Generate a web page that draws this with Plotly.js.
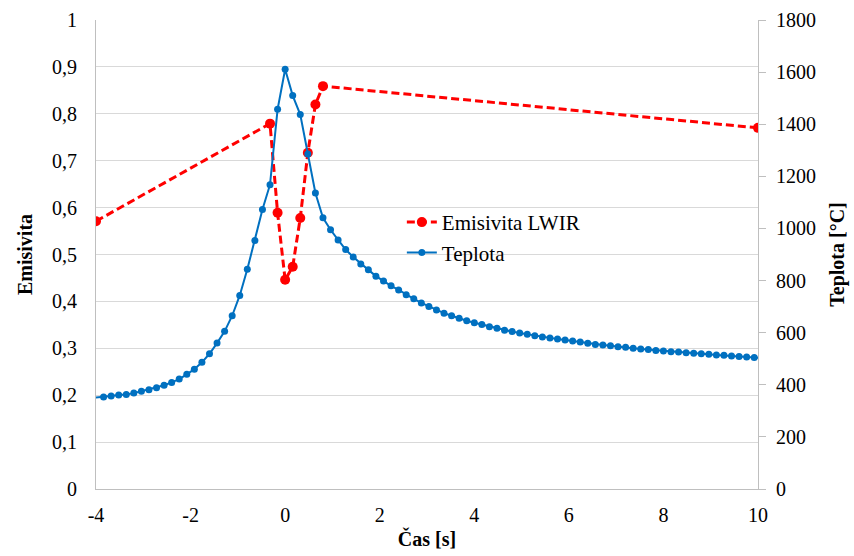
<!DOCTYPE html>
<html>
<head>
<meta charset="utf-8">
<script src="https://cdn.plot.ly/plotly-3.0.1.min.js"></script>
<style>html,body{margin:0;padding:0;background:#fff;}#chart{width:854px;height:556px;}</style>
</head>
<body>
<div id="chart"></div>
<script>
// Emisivita LWIR (left axis)
const timeE = [-4, -0.32, -0.16, 0, 0.16, 0.32, 0.48, 0.64, 0.80, 10];
const emis  = [0.571, 0.779, 0.589, 0.446, 0.474, 0.578, 0.717, 0.820, 0.859, 0.770];

// Teplota [°C] (right axis)
const timeT = [-4.16, -3.84, -3.68, -3.52, -3.36, -3.20, -3.04, -2.88, -2.72, -2.56, -2.40,
  -2.24, -2.08, -1.92, -1.76, -1.60, -1.44, -1.28, -1.12, -0.96, -0.80,
  -0.64, -0.48, -0.32, -0.16, 0, 0.16, 0.32, 0.48, 0.64, 0.80,
  0.96, 1.12, 1.28, 1.44, 1.60, 1.76, 1.92, 2.08, 2.24, 2.40,
  2.56, 2.72, 2.88, 3.04, 3.20, 3.36, 3.52, 3.68, 3.84, 4.00,
  4.16, 4.32, 4.48, 4.64, 4.80, 4.96, 5.12, 5.28, 5.44, 5.60,
  5.76, 5.92, 6.08, 6.24, 6.40, 6.56, 6.72, 6.88, 7.04, 7.20,
  7.36, 7.52, 7.68, 7.84, 8.00, 8.16, 8.32, 8.48, 8.64, 8.80,
  8.96, 9.12, 9.28, 9.44, 9.60, 9.76, 9.92, 10.08];
const temp = [348, 353, 357, 361, 363, 368, 375, 381, 389, 398, 409,
  422, 440, 460, 486, 519, 560, 605, 665, 743, 843,
  954, 1073, 1168, 1457, 1611, 1510, 1437, 1286, 1136, 1041,
  995, 956, 919, 890, 864, 841, 817, 798, 780, 764,
  746, 730, 714, 700, 687, 675, 665, 655, 646, 638,
  631, 623, 617, 609, 604, 599, 594, 588, 583, 580,
  576, 572, 568, 564, 559, 555, 553, 550, 546, 544,
  540, 537, 535, 532, 530, 527, 526, 523, 521, 519,
  517, 514, 513, 510, 509, 507, 505, 503];

// tick labels (plain hyphen minus and decimal comma, as in the original)
const xTickVals = [-4, -2, 0, 2, 4, 6, 8, 10];
const xTickText = ['-4', '-2', '0', '2', '4', '6', '8', '10'];
const yTickVals = [0, 0.1, 0.2, 0.3, 0.4, 0.5, 0.6, 0.7, 0.8, 0.9, 1];
const yTickText = ['0', '0,1', '0,2', '0,3', '0,4', '0,5', '0,6', '0,7', '0,8', '0,9', '1'];
const y2TickVals = [0, 200, 400, 600, 800, 1000, 1200, 1400, 1600, 1800];
const y2TickText = ['0', '200', '400', '600', '800', '1000', '1200', '1400', '1600', '1800'];

const seriesNames = ['Emisivita LWIR', 'Teplota'];
const xTitle = 'Čas [s]';
const yTitle = 'Emisivita';
const y2Title = 'Teplota [°C]';

const FONT = 'Liberation Serif';

const traces = [
  {
    x: timeE, y: emis, name: seriesNames[0], type: 'scatter', mode: 'lines+markers',
    line: {color: '#FF0000', width: 3, dash: '8px,4px'},
    marker: {color: '#FF0000', size: 10},
    yaxis: 'y'
  },
  {
    x: timeT, y: temp, name: seriesNames[1], type: 'scatter', mode: 'lines+markers',
    line: {color: '#0070C0', width: 2},
    marker: {color: '#0070C0', size: 7},
    yaxis: 'y2'
  }
];

const layout = {
  width: 854, height: 556,
  margin: {l: 96, r: 96, t: 20, b: 67},
  paper_bgcolor: '#ffffff', plot_bgcolor: '#ffffff',
  font: {family: FONT, size: 20, color: '#000'},
  showlegend: true,
  legend: {
    x: 0.462, y: 0.612, xanchor: 'left', yanchor: 'top',
    bgcolor: 'rgba(0,0,0,0)', borderwidth: 0,
    font: {family: FONT, size: 21, color: '#000'}
  },
  xaxis: {
    range: [-4, 10], tickmode: 'array', tickvals: xTickVals, ticktext: xTickText,
    showgrid: false, zeroline: false,
    showline: true, linecolor: '#bfbfbf', linewidth: 1,
    ticks: '', ticklabelstandoff: 8,
    tickfont: {family: FONT, size: 20, color: '#000'},
    title: {text: xTitle, font: {family: FONT, size: 20, color: '#000', weight: 'bold'}, standoff: 6}
  },
  yaxis: {
    range: [0, 1], tickmode: 'array', tickvals: yTickVals, ticktext: yTickText,
    showgrid: true, gridcolor: '#d9d9d9', gridwidth: 1,
    zeroline: false,
    showline: true, linecolor: '#bfbfbf', linewidth: 1,
    ticks: '', ticklabelstandoff: 14,
    tickfont: {family: FONT, size: 20, color: '#000'},
    title: {text: yTitle, font: {family: FONT, size: 20, color: '#000', weight: 'bold'}, standoff: 14}
  },
  yaxis2: {
    range: [0, 1800], tickmode: 'array', tickvals: y2TickVals, ticktext: y2TickText,
    overlaying: 'y', side: 'right',
    showgrid: false, zeroline: false,
    showline: true, linecolor: '#bfbfbf', linewidth: 1,
    ticks: 'outside', ticklen: 7, tickcolor: '#bfbfbf', tickwidth: 1,
    ticklabelstandoff: 6,
    tickfont: {family: FONT, size: 20, color: '#000'},
    title: {text: y2Title, font: {family: FONT, size: 20, color: '#000', weight: 'bold'}, standoff: 14}
  }
};

Plotly.newPlot('chart', traces, layout, {displayModeBar: false, staticPlot: true});
</script>
</body>
</html>
